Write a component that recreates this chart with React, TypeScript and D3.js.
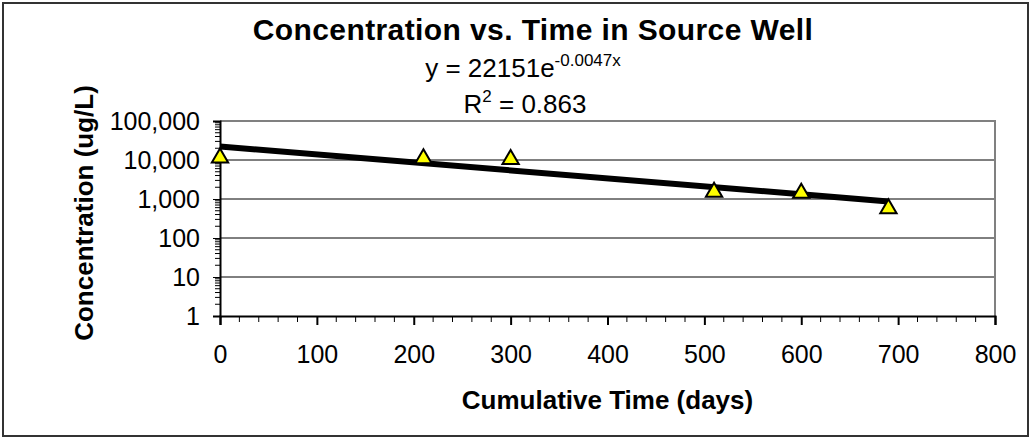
import { useRef, useEffect } from 'react';
import * as d3 from 'd3';

// data
const days = [0, 210, 300, 510, 600, 690];
const concentration = [12000, 11500, 11000, 1600, 1500, 600];
const yTicks = [1, 10, 100, 1000, 10000, 100000];
const xTicks = [0, 100, 200, 300, 400, 500, 600, 700, 800];
const fitA = 22151;
const fitB = -0.0047;
const fitR2 = 0.863;
const chartTitle = 'Concentration vs. Time in Source Well';
const xTitle = 'Cumulative Time (days)';
const yTitle = 'Concentration (ug/L)';

const W = 1031;
const H = 440;
const FONT = '"Liberation Sans", Arial, sans-serif';

export default function App() {
  const svgRef = useRef<SVGSVGElement | null>(null);

  const draw = () => {
    const svg = d3.select(svgRef.current);
    svg.selectAll('*').remove();

    const plot = { left: 220, right: 995, top: 121, bottom: 316 };

    const x = d3.scaleLinear().domain([0, 800]).range([plot.left, plot.right]);
    const y = d3.scaleLog().domain([1, 100000]).range([plot.bottom, plot.top]);

    // outer chart border
    svg.append('rect')
      .attr('x', 3).attr('y', 3)
      .attr('width', W - 6).attr('height', H - 7)
      .attr('fill', 'white')
      .attr('stroke', '#333')
      .attr('stroke-width', 2);

    // gridlines
    svg.append('g')
      .selectAll('line')
      .data(yTicks.slice(1, -1))
      .enter()
      .append('line')
      .attr('x1', plot.left).attr('x2', plot.right)
      .attr('y1', d => y(d)).attr('y2', d => y(d))
      .attr('stroke', '#000')
      .attr('stroke-width', 1);

    // plot area border (top + right)
    svg.append('path')
      .attr('d', `M${plot.left},${plot.top}H${plot.right}V${plot.bottom}`)
      .attr('fill', 'none')
      .attr('stroke', '#808080')
      .attr('stroke-width', 2);

    // y minor ticks (log)
    const yMinor: number[] = [];
    for (let d = 0; d < 5; d++) {
      for (let k = 2; k <= 9; k++) yMinor.push(k * Math.pow(10, d));
    }
    svg.append('g')
      .selectAll('line')
      .data(yMinor)
      .enter()
      .append('line')
      .attr('x1', plot.left - 5).attr('x2', plot.left)
      .attr('y1', d => y(d)).attr('y2', d => y(d))
      .attr('stroke', '#000')
      .attr('stroke-width', 1);

    // y axis
    const yAxis = d3.axisLeft(y)
      .tickValues(yTicks)
      .tickFormat(d => d3.format(',')(d as number))
      .tickSizeOuter(0)
      .tickSize(7)
      .tickPadding(13);
    const gy = svg.append('g')
      .attr('transform', `translate(${plot.left},0)`)
      .call(yAxis);
    gy.selectAll('text')
      .style('font-family', FONT)
      .style('font-size', '25px')
      .attr('fill', '#000');
    gy.select('.domain').attr('stroke-width', 2);

    // x minor ticks
    const xMinor = d3.range(0, 801, 20).filter(d => d % 100 !== 0);
    svg.append('g')
      .selectAll('line')
      .data(xMinor)
      .enter()
      .append('line')
      .attr('x1', d => x(d)).attr('x2', d => x(d))
      .attr('y1', plot.bottom).attr('y2', plot.bottom + 6)
      .attr('stroke', '#000')
      .attr('stroke-width', 1);

    // x axis
    const xAxis = d3.axisBottom(x)
      .tickValues(xTicks)
      .tickSizeOuter(0)
      .tickSize(9)
      .tickPadding(20);
    const gx = svg.append('g')
      .attr('transform', `translate(0,${plot.bottom})`)
      .call(xAxis);
    gx.selectAll('text')
      .style('font-family', FONT)
      .style('font-size', '25px')
      .attr('fill', '#000');
    gx.selectAll('.tick line').attr('stroke-width', 2);
    gx.select('.domain').attr('stroke-width', 2);

    // exponential trendline
    const fitX = d3.extent(days) as [number, number];
    const trend = d3.line<number>()
      .x(d => x(d))
      .y(d => y(fitA * Math.exp(fitB * d)));
    svg.append('path')
      .datum(fitX)
      .attr('d', trend)
      .attr('fill', 'none')
      .attr('stroke', '#000')
      .attr('stroke-width', 6);

    // triangle markers
    const pts = days.map((d, i) => ({ d, c: concentration[i] }));
    const tri = d3.symbol().type(d3.symbolTriangle).size(115);
    svg.append('g')
      .selectAll('path')
      .data(pts)
      .enter()
      .append('path')
      .attr('d', tri)
      .attr('transform', p => `translate(${x(p.d)},${y(p.c) + 1})`)
      .attr('fill', '#ffff00')
      .attr('stroke', '#000')
      .attr('stroke-width', 2);

    // title
    svg.append('text')
      .attr('x', 533).attr('y', 40)
      .attr('text-anchor', 'middle')
      .style('font-family', FONT)
      .style('font-size', '30px')
      .style('letter-spacing', '0.4px')
      .style('font-weight', 'bold')
      .text(chartTitle);

    // equation
    const eq = svg.append('text')
      .attr('x', 523).attr('y', 77)
      .attr('text-anchor', 'middle')
      .style('font-family', FONT)
      .style('font-size', '26px');
    eq.append('tspan').text(`y = ${fitA}e`);
    eq.append('tspan').attr('dy', -11).style('font-size', '17px').text(`${fitB}x`);

    const r2 = svg.append('text')
      .attr('x', 525).attr('y', 113)
      .attr('text-anchor', 'middle')
      .style('font-family', FONT)
      .style('font-size', '26px');
    r2.append('tspan').text('R');
    r2.append('tspan').attr('dy', -11).style('font-size', '17px').text('2');
    r2.append('tspan').attr('dy', 11).text(` = ${fitR2}`);

    // axis titles
    svg.append('text')
      .attr('x', (plot.left + plot.right) / 2).attr('y', 409)
      .attr('text-anchor', 'middle')
      .style('font-family', FONT)
      .style('font-size', '26px')
      .style('font-weight', 'bold')
      .text(xTitle);

    svg.append('text')
      .attr('transform', `translate(93,213) rotate(-90)`)
      .attr('text-anchor', 'middle')
      .style('font-family', FONT)
      .style('font-size', '26px')
      .style('font-weight', 'bold')
      .text(yTitle);
  };

  useEffect(() => {
    draw();
  }, []);

  return (
    <svg
      ref={svgRef}
      width={W}
      height={H}
      style={{ position: 'absolute', left: 0, top: 0, background: '#fff' }}
    ></svg>
  );
}
